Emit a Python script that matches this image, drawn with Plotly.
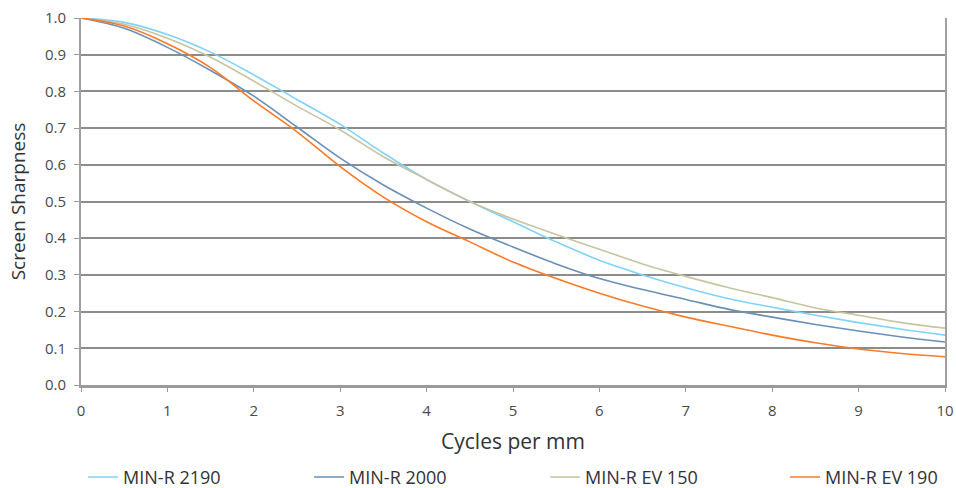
import plotly.graph_objects as go

x_vals = [0, 0.5, 1, 1.5, 2, 2.5, 3, 3.5, 4, 4.5, 5, 5.5, 6, 6.5, 7, 7.5, 8, 8.5, 9, 9.5, 10]

min_r_2190 = [1.0, 0.988, 0.955, 0.907, 0.845, 0.778, 0.71, 0.632, 0.56, 0.50, 0.445, 0.39, 0.34, 0.30, 0.265, 0.235, 0.212, 0.19, 0.17, 0.152, 0.136]
min_r_2000 = [1.0, 0.972, 0.92, 0.857, 0.787, 0.703, 0.618, 0.545, 0.482, 0.425, 0.376, 0.33, 0.29, 0.26, 0.233, 0.206, 0.185, 0.165, 0.147, 0.131, 0.117]
min_r_ev150 = [1.0, 0.983, 0.945, 0.893, 0.828, 0.76, 0.695, 0.622, 0.56, 0.50, 0.452, 0.41, 0.37, 0.33, 0.296, 0.265, 0.238, 0.21, 0.19, 0.17, 0.155]
min_r_ev190 = [1.0, 0.978, 0.93, 0.865, 0.774, 0.69, 0.595, 0.512, 0.445, 0.39, 0.335, 0.29, 0.25, 0.215, 0.185, 0.16, 0.136, 0.115, 0.098, 0.086, 0.077]

series_names = ["MIN-R 2190", "MIN-R 2000", "MIN-R EV 150", "MIN-R EV 190"]
series_values = [min_r_2190, min_r_2000, min_r_ev150, min_r_ev190]
series_colors = ["#7fd3f7", "#6a8fb5", "#c8c3a0", "#fb7a26"]

x_ticks = list(range(0, 11))
y_ticks = [round(i * 0.1, 1) for i in range(11)]

legend_ids = ["legend", "legend2", "legend3", "legend4"]
legend_x = [0.0869, 0.3233, 0.5702, 0.8212]

fig = go.Figure()
for name, vals, col, lid in zip(series_names, series_values, series_colors, legend_ids):
    fig.add_trace(go.Scatter(x=x_vals, y=vals, name=name, mode="lines", legend=lid,
                             line=dict(color=col, width=1.6, shape="spline", smoothing=1.0)))

font_family = "Open Sans, Noto Sans, DejaVu Sans, sans-serif"

legend_common = dict(orientation="h", xanchor="left", xref="container", yref="container",
                     y=0.022, yanchor="middle",
                     bgcolor="rgba(0,0,0,0)", font=dict(size=18, color="#333"), itemwidth=30)

layout_legends = {}
for lid, lx in zip(legend_ids, legend_x):
    layout_legends[lid] = dict(x=lx, **legend_common)

fig.update_layout(
    width=956, height=488,
    margin=dict(l=81, r=11, t=18, b=103, autoexpand=False),
    paper_bgcolor="white", plot_bgcolor="white",
    font=dict(family=font_family, color="#444"),
    showlegend=True,
    xaxis=dict(range=[0, 10], tickvals=x_ticks, ticktext=[str(t) for t in x_ticks],
               showgrid=False, zeroline=False, automargin=False,
               showline=True, linecolor="#9a9a9a", linewidth=2.5,
               ticks="outside", ticklen=4, tickcolor="#9a9a9a", tickwidth=1,
               ticklabelstandoff=6,
               tickfont=dict(size=15, color="#4a4a4a"),
               title=dict(text="Cycles per mm", font=dict(size=21, color="#333"), standoff=16)),
    yaxis=dict(range=[0, 1.0], tickvals=y_ticks, ticktext=[f"{v:.1f}" for v in y_ticks],
               showgrid=True, gridcolor="#8c8c8c", gridwidth=1.5, zeroline=False, automargin=False,
               showline=True, linecolor="#a0a0a0", linewidth=2, mirror=True,
               ticks="outside", ticklen=5, tickcolor="#9a9a9a", tickwidth=1,
               ticklabelstandoff=5,
               tickfont=dict(size=15, color="#4a4a4a"),
               title=dict(text="Screen Sharpness", font=dict(size=19, color="#333"), standoff=14)),
    **layout_legends,
)

fig.write_html("out.html", config={"displayModeBar": False},
               post_script="document.body.style.margin='0';document.body.style.overflow='hidden';")
